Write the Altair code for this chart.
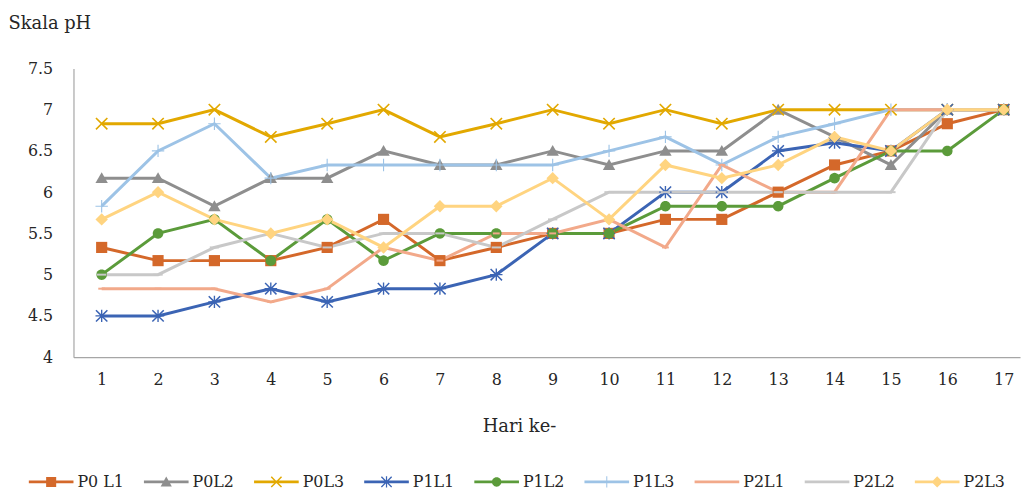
import math
import altair as alt
import pandas as pd

# ---- data ----
days = list(range(1, 18))
series_names = ["P0 L1", "P0L2", "P0L3", "P1L1", "P1L2", "P1L3", "P2L1", "P2L2", "P2L3"]
P0_L1 = [5.33, 5.17, 5.17, 5.17, 5.33, 5.67, 5.17, 5.33, 5.5, 5.5, 5.67, 5.67, 6.0, 6.33, 6.5, 6.83, 7.0]
P0L2 = [6.17, 6.17, 5.83, 6.17, 6.17, 6.5, 6.33, 6.33, 6.5, 6.33, 6.5, 6.5, 7.0, 6.67, 6.33, 7.0, 7.0]
P0L3 = [6.83, 6.83, 7.0, 6.67, 6.83, 7.0, 6.67, 6.83, 7.0, 6.83, 7.0, 6.83, 7.0, 7.0, 7.0, 7.0, 7.0]
P1L1 = [4.5, 4.5, 4.67, 4.83, 4.67, 4.83, 4.83, 5.0, 5.5, 5.5, 6.0, 6.0, 6.5, 6.6, 6.5, 7.0, 7.0]
P1L2 = [5.0, 5.5, 5.67, 5.17, 5.67, 5.17, 5.5, 5.5, 5.5, 5.5, 5.83, 5.83, 5.83, 6.17, 6.5, 6.5, 7.0]
P1L3 = [5.83, 6.5, 6.83, 6.17, 6.33, 6.33, 6.33, 6.33, 6.33, 6.5, 6.67, 6.33, 6.67, 6.83, 7.0, 7.0, 7.0]
P2L1 = [4.83, 4.83, 4.83, 4.67, 4.83, 5.33, 5.17, 5.5, 5.5, 5.67, 5.33, 6.33, 6.0, 6.0, 7.0, 7.0, 7.0]
P2L2 = [5.0, 5.0, 5.33, 5.5, 5.33, 5.5, 5.5, 5.33, 5.67, 6.0, 6.0, 6.0, 6.0, 6.0, 6.0, 7.0, 7.0]
P2L3 = [5.67, 6.0, 5.67, 5.5, 5.67, 5.33, 5.83, 5.83, 6.17, 5.67, 6.33, 6.17, 6.33, 6.67, 6.5, 7.0, 7.0]
y_ticks = [4, 4.5, 5, 5.5, 6, 6.5, 7, 7.5]

all_series = [P0_L1, P0L2, P0L3, P1L1, P1L2, P1L3, P2L1, P2L2, P2L3]
colors = ["#D4682A", "#8E8E8E", "#E2A800", "#3B64B4", "#5B9B3A",
          "#9DC3E6", "#F2A98A", "#C8C8C8", "#FFD480"]

rows = []
for name, vals in zip(series_names, all_series):
    for d, v in zip(days, vals):
        rows.append({"series": name, "day": d, "ph": v})
df = pd.DataFrame(rows)

# ---- marker shapes (polygons in unit coordinates) ----
def rot(poly, ang):
    c, s = math.cos(ang), math.sin(ang)
    return [(x * c - y * s, x * s + y * c) for x, y in poly]

def plus_poly(L, t):
    return [(-L, -t), (-t, -t), (-t, -L), (t, -L), (t, -t), (L, -t),
            (L, t), (t, t), (t, L), (-t, L), (-t, t), (-L, t)]

def circle_poly(r, n=28):
    return [(r * math.cos(2 * math.pi * i / n), r * math.sin(2 * math.pi * i / n)) for i in range(n)]

SHAPES = [
    [[(-0.9, -0.9), (0.9, -0.9), (0.9, 0.9), (-0.9, 0.9)]],                   # square
    [[(0, -0.95), (1.0, 0.8), (-1.0, 0.8)]],                                  # triangle
    [rot(plus_poly(1.3, 0.13), math.pi / 4)],                                 # x
    [rot(plus_poly(1.3, 0.12), math.pi / 4), plus_poly(1.0, 0.11)],           # asterisk
    [circle_poly(0.85)],                                                      # circle
    [plus_poly(1.0, 0.09)],                                                   # plus
    [[(-0.55, -0.16), (0.55, -0.16), (0.55, 0.16), (-0.55, 0.16)]],           # dash
    [[(-0.75, -0.16), (0.75, -0.16), (0.75, 0.16), (-0.75, 0.16)]],           # long dash
    [[(0, -1.0), (1.0, 0), (0, 1.0), (-1.0, 0)]],                             # diamond
]

def to_path(polys, scale=1.0):
    parts = []
    for poly in polys:
        pts = ["%.4f,%.4f" % (x * scale, y * scale) for x, y in poly]
        parts.append("M" + "L".join(pts) + "Z")
    return "".join(parts)

point_paths = [to_path(p) for p in SHAPES]
LINE_T = 0.062
legend_line = [(-1, -LINE_T), (1, -LINE_T), (1, LINE_T), (-1, LINE_T)]
legend_paths = [to_path([legend_line]) + to_path(p, 0.25) for p in SHAPES]

FONT = "DejaVu Serif"
TXT = "#262626"
AXC = "#A6A6A6"

x_enc = alt.X("day:Q",
              scale=alt.Scale(domain=[0.5, 17.29], nice=False, zero=False),
              axis=alt.Axis(values=days, format="d", grid=False, ticks=False, tickSize=0,
                            domainColor=AXC, domainWidth=1.2,
                            labelFont=FONT, labelFontSize=16, labelColor=TXT, labelPadding=15,
                            title="Hari ke-", titleFont=FONT, titleFontSize=18,
                            titleFontWeight="normal", titleColor=TXT,
                            titleX=449, titleY=75, titleAlign="center",
                            titleBaseline="alphabetic"))
y_enc = alt.Y("ph:Q",
              scale=alt.Scale(domain=[4, 7.5], nice=False, zero=False),
              axis=alt.Axis(values=y_ticks, format="~g", grid=False, ticks=False, tickSize=0,
                            domainColor=AXC, domainWidth=1.2,
                            labelFont=FONT, labelFontSize=16, labelColor=TXT, labelPadding=21,
                            title="Skala pH", titleFont=FONT, titleFontSize=18,
                            titleFontWeight="normal", titleColor=TXT, titleAngle=0,
                            titleAlign="left", titleBaseline="alphabetic",
                            titleX=-66, titleY=-40))

lines = alt.Chart(df).mark_line(strokeWidth=3).encode(
    x=x_enc, y=y_enc,
    color=alt.Color("series:N", scale=alt.Scale(domain=series_names, range=colors), legend=None),
    detail="series:N",
)

points = alt.Chart(df).mark_point(filled=True, opacity=1, size=156, strokeWidth=0).encode(
    x=x_enc, y=y_enc,
    color=alt.Color("series:N", scale=alt.Scale(domain=series_names, range=colors), legend=None),
    shape=alt.Shape("series:N", scale=alt.Scale(domain=series_names, range=point_paths), legend=None),
)

leg = alt.Legend(title=None, orient="none", legendX=-45, legendY=394, direction="horizontal",
                 columns=9, columnPadding=20, symbolSize=2025, symbolStrokeWidth=0,
                 symbolOpacity=1, labelOffset=4, padding=0,
                 labelFont=FONT, labelFontSize=16, labelColor=TXT, labelLimit=200)

legend_layer = alt.Chart(df).transform_filter("datum.day < 0").mark_point(
    filled=True, opacity=1, strokeWidth=0).encode(
    x=x_enc, y=y_enc,
    color=alt.Color("series:N", scale=alt.Scale(domain=series_names, range=colors), legend=leg),
    shape=alt.Shape("series:N", scale=alt.Scale(domain=series_names, range=legend_paths), legend=leg),
)

chart = alt.layer(lines, points, legend_layer).resolve_scale(
    shape="independent", color="independent"
).properties(
    width=954, height=291,
    autosize=alt.AutoSizeParams(type="none"),
    padding={"left": 66, "top": 59, "right": 3, "bottom": 132},
    background="white",
).configure_view(stroke=None)

chart.save("out.html", embed_options={"renderer": "svg", "actions": False})
